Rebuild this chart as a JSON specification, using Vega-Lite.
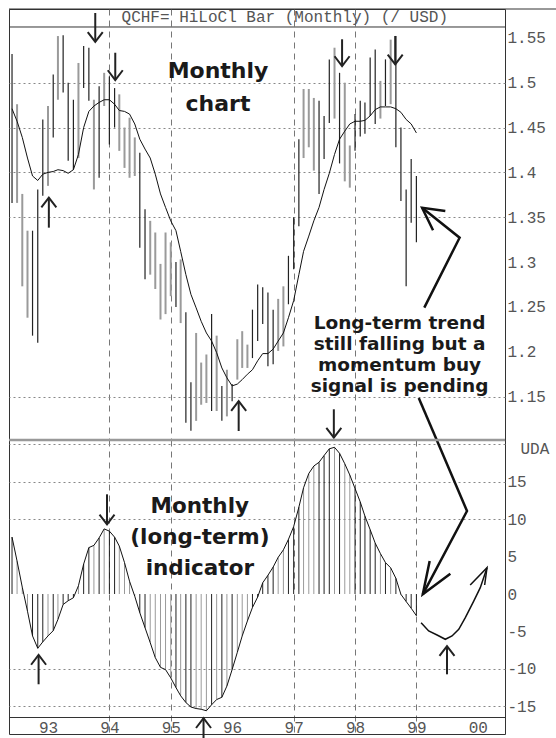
{
  "$schema": "https://vega.github.io/schema/vega-lite/v6.json",
  "padding": {"left": 7, "top": 8, "right": 0, "bottom": 0},
  "background": "white",
  "spacing": 0,
  "bounds": "flush",
  "config": {
    "view": {"stroke": "#333", "strokeWidth": 1},
    "axis": {"labelFont": "Liberation Mono", "labelFontSize": 16, "labelColor": "#555", "ticks": false, "domain": false, "labelOverlap": false}
  },
  "datasets": {
    "monthly": [
      {"date": "1992-06-01", "hi": 1.532, "lo": 1.366, "ma": 1.471, "ind": 7.6, "dir": "up"},
      {"date": "1992-07-01", "hi": 1.476, "lo": 1.366, "ma": 1.457, "ind": 4.4, "dir": "down"},
      {"date": "1992-08-01", "hi": 1.376, "lo": 1.273, "ma": 1.439, "ind": 0.9, "dir": "down"},
      {"date": "1992-09-01", "hi": 1.335, "lo": 1.238, "ma": 1.416, "ind": -2.3, "dir": "down"},
      {"date": "1992-10-01", "hi": 1.335, "lo": 1.218, "ma": 1.396, "ind": -5.6, "dir": "up"},
      {"date": "1992-11-01", "hi": 1.381, "lo": 1.210, "ma": 1.391, "ind": -7.25, "dir": "up"},
      {"date": "1992-12-01", "hi": 1.459, "lo": 1.374, "ma": 1.398, "ind": -6.4, "dir": "up"},
      {"date": "1993-01-01", "hi": 1.474, "lo": 1.385, "ma": 1.400, "ind": -5.6, "dir": "down"},
      {"date": "1993-02-01", "hi": 1.509, "lo": 1.439, "ma": 1.401, "ind": -4.9, "dir": "up"},
      {"date": "1993-03-01", "hi": 1.552, "lo": 1.481, "ma": 1.403, "ind": -3.4, "dir": "down"},
      {"date": "1993-04-01", "hi": 1.553, "lo": 1.489, "ma": 1.402, "ind": -1.4, "dir": "up"},
      {"date": "1993-05-01", "hi": 1.500, "lo": 1.413, "ma": 1.399, "ind": -0.9, "dir": "up"},
      {"date": "1993-06-01", "hi": 1.481, "lo": 1.403, "ma": 1.403, "ind": -0.5, "dir": "up"},
      {"date": "1993-07-01", "hi": 1.522, "lo": 1.416, "ma": 1.420, "ind": 1.1, "dir": "down"},
      {"date": "1993-08-01", "hi": 1.541, "lo": 1.494, "ma": 1.450, "ind": 4.0, "dir": "up"},
      {"date": "1993-09-01", "hi": 1.539, "lo": 1.480, "ma": 1.468, "ind": 6.2, "dir": "up"},
      {"date": "1993-10-01", "hi": 1.481, "lo": 1.381, "ma": 1.474, "ind": 6.5, "dir": "down"},
      {"date": "1993-11-01", "hi": 1.496, "lo": 1.394, "ma": 1.478, "ind": 7.5, "dir": "up"},
      {"date": "1993-12-01", "hi": 1.511, "lo": 1.474, "ma": 1.481, "ind": 8.7, "dir": "down"},
      {"date": "1994-01-01", "hi": 1.507, "lo": 1.431, "ma": 1.481, "ind": 8.4, "dir": "up"},
      {"date": "1994-02-01", "hi": 1.494, "lo": 1.450, "ma": 1.476, "ind": 7.6, "dir": "up"},
      {"date": "1994-03-01", "hi": 1.487, "lo": 1.424, "ma": 1.469, "ind": 6.4, "dir": "down"},
      {"date": "1994-04-01", "hi": 1.450, "lo": 1.405, "ma": 1.468, "ind": 4.2, "dir": "down"},
      {"date": "1994-05-01", "hi": 1.461, "lo": 1.394, "ma": 1.465, "ind": 1.7, "dir": "down"},
      {"date": "1994-06-01", "hi": 1.439, "lo": 1.396, "ma": 1.454, "ind": -0.3, "dir": "down"},
      {"date": "1994-07-01", "hi": 1.422, "lo": 1.316, "ma": 1.437, "ind": -2.5, "dir": "up"},
      {"date": "1994-08-01", "hi": 1.359, "lo": 1.281, "ma": 1.426, "ind": -4.5, "dir": "up"},
      {"date": "1994-09-01", "hi": 1.346, "lo": 1.286, "ma": 1.416, "ind": -6.5, "dir": "down"},
      {"date": "1994-10-01", "hi": 1.333, "lo": 1.270, "ma": 1.398, "ind": -8.5, "dir": "down"},
      {"date": "1994-11-01", "hi": 1.298, "lo": 1.236, "ma": 1.376, "ind": -9.8, "dir": "down"},
      {"date": "1994-12-01", "hi": 1.333, "lo": 1.242, "ma": 1.361, "ind": -10.1, "dir": "down"},
      {"date": "1995-01-01", "hi": 1.322, "lo": 1.262, "ma": 1.346, "ind": -11.2, "dir": "down"},
      {"date": "1995-02-01", "hi": 1.300, "lo": 1.250, "ma": 1.335, "ind": -12.5, "dir": "up"},
      {"date": "1995-03-01", "hi": 1.303, "lo": 1.232, "ma": 1.312, "ind": -13.6, "dir": "down"},
      {"date": "1995-04-01", "hi": 1.244, "lo": 1.121, "ma": 1.286, "ind": -14.5, "dir": "up"},
      {"date": "1995-05-01", "hi": 1.166, "lo": 1.112, "ma": 1.264, "ind": -15.1, "dir": "up"},
      {"date": "1995-06-01", "hi": 1.221, "lo": 1.123, "ma": 1.249, "ind": -15.3, "dir": "down"},
      {"date": "1995-07-01", "hi": 1.188, "lo": 1.141, "ma": 1.234, "ind": -15.4, "dir": "down"},
      {"date": "1995-08-01", "hi": 1.197, "lo": 1.143, "ma": 1.221, "ind": -15.6, "dir": "down"},
      {"date": "1995-09-01", "hi": 1.242, "lo": 1.134, "ma": 1.212, "ind": -14.8, "dir": "up"},
      {"date": "1995-10-01", "hi": 1.218, "lo": 1.134, "ma": 1.199, "ind": -14.1, "dir": "down"},
      {"date": "1995-11-01", "hi": 1.162, "lo": 1.123, "ma": 1.182, "ind": -13.8, "dir": "up"},
      {"date": "1995-12-01", "hi": 1.180, "lo": 1.128, "ma": 1.171, "ind": -12.3, "dir": "down"},
      {"date": "1996-01-01", "hi": 1.164, "lo": 1.145, "ma": 1.162, "ind": -10.1, "dir": "up"},
      {"date": "1996-02-01", "hi": 1.214, "lo": 1.169, "ma": 1.164, "ind": -7.8, "dir": "down"},
      {"date": "1996-03-01", "hi": 1.223, "lo": 1.182, "ma": 1.169, "ind": -5.6, "dir": "down"},
      {"date": "1996-04-01", "hi": 1.208, "lo": 1.182, "ma": 1.175, "ind": -3.6, "dir": "down"},
      {"date": "1996-05-01", "hi": 1.247, "lo": 1.193, "ma": 1.180, "ind": -1.8, "dir": "up"},
      {"date": "1996-06-01", "hi": 1.275, "lo": 1.212, "ma": 1.190, "ind": -0.4, "dir": "up"},
      {"date": "1996-07-01", "hi": 1.272, "lo": 1.231, "ma": 1.198, "ind": 1.5, "dir": "up"},
      {"date": "1996-08-01", "hi": 1.266, "lo": 1.184, "ma": 1.198, "ind": 2.5, "dir": "up"},
      {"date": "1996-09-01", "hi": 1.247, "lo": 1.186, "ma": 1.203, "ind": 3.6, "dir": "up"},
      {"date": "1996-10-01", "hi": 1.259, "lo": 1.201, "ma": 1.212, "ind": 4.9, "dir": "down"},
      {"date": "1996-11-01", "hi": 1.273, "lo": 1.206, "ma": 1.221, "ind": 5.9, "dir": "down"},
      {"date": "1996-12-01", "hi": 1.307, "lo": 1.253, "ma": 1.238, "ind": 7.3, "dir": "up"},
      {"date": "1997-01-01", "hi": 1.350, "lo": 1.292, "ma": 1.257, "ind": 9.0, "dir": "up"},
      {"date": "1997-02-01", "hi": 1.437, "lo": 1.340, "ma": 1.286, "ind": 11.6, "dir": "up"},
      {"date": "1997-03-01", "hi": 1.493, "lo": 1.416, "ma": 1.312, "ind": 14.2, "dir": "down"},
      {"date": "1997-04-01", "hi": 1.493, "lo": 1.428, "ma": 1.329, "ind": 16.1, "dir": "down"},
      {"date": "1997-05-01", "hi": 1.483, "lo": 1.402, "ma": 1.346, "ind": 17.1, "dir": "down"},
      {"date": "1997-06-01", "hi": 1.480, "lo": 1.376, "ma": 1.361, "ind": 17.6, "dir": "up"},
      {"date": "1997-07-01", "hi": 1.463, "lo": 1.415, "ma": 1.381, "ind": 18.5, "dir": "up"},
      {"date": "1997-08-01", "hi": 1.526, "lo": 1.455, "ma": 1.399, "ind": 19.4, "dir": "up"},
      {"date": "1997-09-01", "hi": 1.539, "lo": 1.460, "ma": 1.420, "ind": 19.6, "dir": "down"},
      {"date": "1997-10-01", "hi": 1.511, "lo": 1.410, "ma": 1.437, "ind": 18.8, "dir": "up"},
      {"date": "1997-11-01", "hi": 1.500, "lo": 1.390, "ma": 1.446, "ind": 17.4, "dir": "down"},
      {"date": "1997-12-01", "hi": 1.430, "lo": 1.383, "ma": 1.454, "ind": 15.9, "dir": "down"},
      {"date": "1998-01-01", "hi": 1.465, "lo": 1.424, "ma": 1.457, "ind": 14.1, "dir": "up"},
      {"date": "1998-02-01", "hi": 1.480, "lo": 1.440, "ma": 1.457, "ind": 12.3, "dir": "up"},
      {"date": "1998-03-01", "hi": 1.478, "lo": 1.443, "ma": 1.458, "ind": 10.4, "dir": "up"},
      {"date": "1998-04-01", "hi": 1.528, "lo": 1.463, "ma": 1.463, "ind": 8.6, "dir": "up"},
      {"date": "1998-05-01", "hi": 1.537, "lo": 1.454, "ma": 1.470, "ind": 6.8, "dir": "up"},
      {"date": "1998-06-01", "hi": 1.502, "lo": 1.460, "ma": 1.473, "ind": 5.4, "dir": "down"},
      {"date": "1998-07-01", "hi": 1.526, "lo": 1.474, "ma": 1.473, "ind": 4.2, "dir": "up"},
      {"date": "1998-08-01", "hi": 1.548, "lo": 1.476, "ma": 1.473, "ind": 3.5, "dir": "down"},
      {"date": "1998-09-01", "hi": 1.552, "lo": 1.428, "ma": 1.471, "ind": 2.1, "dir": "up"},
      {"date": "1998-10-01", "hi": 1.450, "lo": 1.368, "ma": 1.467, "ind": -0.05, "dir": "up"},
      {"date": "1998-11-01", "hi": 1.381, "lo": 1.273, "ma": 1.459, "ind": -1.0, "dir": "up"},
      {"date": "1998-12-01", "hi": 1.415, "lo": 1.344, "ma": 1.454, "ind": -1.9, "dir": "up"},
      {"date": "1999-01-01", "hi": 1.396, "lo": 1.322, "ma": 1.444, "ind": -2.9, "dir": "up"}
    ],
    "topArrows": [
      {"date": "1993-10-09", "tail": 1.5777, "tip": 1.5454, "dir": "down"},
      {"date": "1994-02-05", "tail": 1.5334, "tip": 1.5030, "dir": "down"},
      {"date": "1993-01-06", "tail": 1.3384, "tip": 1.3718, "dir": "up"},
      {"date": "1996-02-09", "tail": 1.1117, "tip": 1.1451, "dir": "up"},
      {"date": "1997-10-16", "tail": 1.5484, "tip": 1.5186, "dir": "down"},
      {"date": "1998-08-28", "tail": 1.5521, "tip": 1.5205, "dir": "down"},
      {"date": "1997-08-28", "tail": 1.1359, "tip": 1.1042, "dir": "down"}
    ],
    "bottomArrows": [
      {"date": "1992-11-06", "tail": -12.06, "tip": -8.15, "dir": "up"},
      {"date": "1993-12-18", "tail": 13.32, "tip": 9.31, "dir": "down"},
      {"date": "1995-07-15", "tail": -19.37, "tip": -16.6, "dir": "up"},
      {"date": "1999-07-02", "tail": -10.73, "tip": -6.95, "dir": "up"}
    ],
    "topPointer": [
      {"seg": "a", "o": 1, "date": "1999-01-15", "p": 1.1485},
      {"seg": "a", "o": 2, "date": "1999-05-02", "p": 1.10167},
      {"seg": "b", "o": 1, "date": "1999-02-17", "p": 1.2492},
      {"seg": "b", "o": 2, "date": "1999-09-15", "p": 1.3272},
      {"seg": "b", "o": 3, "date": "1999-02-04", "p": 1.3606},
      {"seg": "c", "o": 1, "date": "1999-06-22", "p": 1.3570},
      {"seg": "c", "o": 2, "date": "1999-02-04", "p": 1.3606},
      {"seg": "c", "o": 3, "date": "1999-04-10", "p": 1.3355}
    ],
    "bottomPointer": [
      {"seg": "a", "o": 1, "date": "1999-05-02", "v": 20.575},
      {"seg": "a", "o": 2, "date": "1999-10-29", "v": 11.09},
      {"seg": "a", "o": 3, "date": "1999-02-08", "v": -0.04},
      {"seg": "b", "o": 1, "date": "1999-03-21", "v": 4.41},
      {"seg": "b", "o": 2, "date": "1999-02-08", "v": -0.04},
      {"seg": "b", "o": 3, "date": "1999-07-22", "v": 2.71}
    ],
    "projection": [
      {"seg": "p", "o": 1, "date": "1999-01-29", "v": -3.83},
      {"seg": "p", "o": 2, "date": "1999-03-15", "v": -4.94},
      {"seg": "p", "o": 3, "date": "1999-05-04", "v": -5.48},
      {"seg": "p", "o": 4, "date": "1999-06-22", "v": -6.05},
      {"seg": "p", "o": 5, "date": "1999-08-01", "v": -5.61},
      {"seg": "p", "o": 6, "date": "1999-09-10", "v": -4.72},
      {"seg": "p", "o": 7, "date": "1999-10-19", "v": -3.16},
      {"seg": "p", "o": 8, "date": "1999-12-08", "v": -0.94},
      {"seg": "p", "o": 9, "date": "2000-01-16", "v": 0.85},
      {"seg": "p", "o": 10, "date": "2000-02-25", "v": 3.51},
      {"seg": "h", "o": 1, "date": "1999-11-17", "v": 1.2},
      {"seg": "h", "o": 2, "date": "2000-02-25", "v": 3.51},
      {"seg": "h", "o": 3, "date": "2000-02-11", "v": 1.2}
    ]
  },
  "vconcat": [
    {
      "width": 496,
      "height": 431,
      "layer": [
        {
          "data": {"name": "monthly"},
          "mark": {"type": "rule"},
          "encoding": {
            "x": {"field": "date", "type": "temporal",
              "scale": {"type": "utc", "domain": [{"year": 1992, "month": 5, "date": 14, "utc": true}, {"year": 2000, "month": 6, "date": 11, "utc": true}]},
              "axis": {"orient": "bottom", "title": null, "labels": false, "ticks": false, "domain": false, "grid": true, "gridColor": "#777", "gridDash": [6, 5], "gridWidth": 1,
                "values": [{"year": 1993, "utc": true}, {"year": 1994, "utc": true}, {"year": 1995, "utc": true}, {"year": 1996, "utc": true}, {"year": 1997, "utc": true}, {"year": 1998, "utc": true}, {"year": 1999, "utc": true}, {"year": 2000, "utc": true}],
                "gridOpacity": {"condition": {"test": "indexof([1994,1995,1997,1998], utcyear(datum.value)) >= 0", "value": 1}, "value": 0}}},
            "y": {"field": "hi", "type": "quantitative",
              "scale": {"domain": [1.10167, 1.58216], "nice": false, "zero": false},
              "axis": {"orient": "right", "title": null, "values": [1.15, 1.2, 1.25, 1.3, 1.35, 1.4, 1.45, 1.5, 1.55], "labelExpr": "'' + round(datum.value * 100) / 100", "labelPadding": 2, "grid": true, "gridColor": "#888", "gridDash": [2, 3],
                "gridOpacity": {"condition": {"test": "abs(datum.value - 1.2) < 0.001 || abs(datum.value - 1.25) < 0.001 || abs(datum.value - 1.3) < 0.001 || datum.value > 1.54", "value": 0}, "value": 1}}},
            "y2": {"field": "lo"},
            "color": {"field": "dir", "type": "nominal", "scale": {"domain": ["up", "down"], "range": ["#222222", "#9a9a9a"]}, "legend": null},
            "strokeWidth": {"field": "dir", "type": "ordinal", "scale": {"domain": ["up", "down"], "range": [1.2, 2]}, "legend": null}
          }
        },
        {
          "data": {"name": "monthly"},
          "mark": {"type": "line", "color": "#111", "strokeWidth": 1},
          "encoding": {
            "x": {"field": "date", "type": "temporal", "scale": {"type": "utc", "domain": [{"year": 1992, "month": 5, "date": 14, "utc": true}, {"year": 2000, "month": 6, "date": 11, "utc": true}]}},
            "y": {"field": "ma", "type": "quantitative", "scale": {"domain": [1.10167, 1.58216], "nice": false, "zero": false}}
          }
        },
        {
          "data": {"values": [{"p": 1.5621}]},
          "mark": {"type": "rule", "color": "#333", "strokeWidth": 1},
          "encoding": {
            "y": {"field": "p", "type": "quantitative", "scale": {"domain": [1.10167, 1.58216], "nice": false, "zero": false}}
          }
        },
        {
          "data": {"values": [{"date": "1992-05-14", "date2": "2001-04-22", "p": 1.58216}]},
          "mark": {"type": "rule", "color": "#333", "strokeWidth": 1},
          "encoding": {
            "x": {"field": "date", "type": "temporal", "scale": {"type": "utc", "domain": [{"year": 1992, "month": 5, "date": 14, "utc": true}, {"year": 2000, "month": 6, "date": 11, "utc": true}]}},
            "x2": {"field": "date2"},
            "y": {"field": "p", "type": "quantitative", "scale": {"domain": [1.10167, 1.58216], "nice": false, "zero": false}}
          }
        },
        {
          "data": {"values": [
            {"date": "1996-11-09", "p": 1.568, "label": "QCHF= HiLoCl Bar (Monthly) (/ USD)"}
          ]},
          "mark": {"type": "text", "font": "Liberation Mono", "fontSize": 16, "color": "#555", "align": "center", "baseline": "alphabetic"},
          "encoding": {
            "x": {"field": "date", "type": "temporal", "scale": {"type": "utc", "domain": [{"year": 1992, "month": 5, "date": 14, "utc": true}, {"year": 2000, "month": 6, "date": 11, "utc": true}]}},
            "y": {"field": "p", "type": "quantitative", "scale": {"domain": [1.10167, 1.58216], "nice": false, "zero": false}},
            "text": {"field": "label"}
          }
        },
        {
          "data": {"values": [
            {"date": "1995-10-09", "p": 1.5049, "label": "Monthly\nchart"}
          ]},
          "mark": {"type": "text", "font": "DejaVu Sans", "fontWeight": "bold", "fontSize": 22, "lineHeight": 33, "lineBreak": "\n", "color": "#1a1a1a", "align": "center", "baseline": "alphabetic"},
          "encoding": {
            "x": {"field": "date", "type": "temporal", "scale": {"type": "utc", "domain": [{"year": 1992, "month": 5, "date": 14, "utc": true}, {"year": 2000, "month": 6, "date": 11, "utc": true}]}},
            "y": {"field": "p", "type": "quantitative", "scale": {"domain": [1.10167, 1.58216], "nice": false, "zero": false}},
            "text": {"field": "label"}
          }
        },
        {
          "data": {"values": [
            {"date": "1998-09-23", "p": 1.2251, "label": "Long-term trend\nstill falling but a\nmomentum buy\nsignal is pending"}
          ]},
          "mark": {"type": "text", "font": "DejaVu Sans", "fontWeight": "bold", "fontSize": 18.5, "lineHeight": 21, "lineBreak": "\n", "color": "#1a1a1a", "align": "center", "baseline": "alphabetic"},
          "encoding": {
            "x": {"field": "date", "type": "temporal", "scale": {"type": "utc", "domain": [{"year": 1992, "month": 5, "date": 14, "utc": true}, {"year": 2000, "month": 6, "date": 11, "utc": true}]}},
            "y": {"field": "p", "type": "quantitative", "scale": {"domain": [1.10167, 1.58216], "nice": false, "zero": false}},
            "text": {"field": "label"}
          }
        },
        {
          "data": {"name": "topArrows"},
          "mark": {"type": "rule", "color": "#222", "strokeWidth": 2},
          "encoding": {
            "x": {"field": "date", "type": "temporal", "scale": {"type": "utc", "domain": [{"year": 1992, "month": 5, "date": 14, "utc": true}, {"year": 2000, "month": 6, "date": 11, "utc": true}]}},
            "y": {"field": "tail", "type": "quantitative", "scale": {"domain": [1.10167, 1.58216], "nice": false, "zero": false}},
            "y2": {"field": "tip"}
          }
        },
        {
          "data": {"name": "topArrows"},
          "mark": {"type": "point", "filled": false, "color": "#222", "strokeWidth": 2, "size": 225, "opacity": 1},
          "encoding": {
            "x": {"field": "date", "type": "temporal", "scale": {"type": "utc", "domain": [{"year": 1992, "month": 5, "date": 14, "utc": true}, {"year": 2000, "month": 6, "date": 11, "utc": true}]}},
            "y": {"field": "tip", "type": "quantitative", "scale": {"domain": [1.10167, 1.58216], "nice": false, "zero": false}},
            "shape": {"field": "dir", "type": "nominal", "scale": {"domain": ["down", "up"], "range": ["M-1,-1.3L0,0L1,-1.3", "M-1,1.3L0,0L1,1.3"]}, "legend": null}
          }
        },
        {
          "data": {"name": "topPointer"},
          "mark": {"type": "line", "color": "#111", "strokeWidth": 2.5},
          "encoding": {
            "x": {"field": "date", "type": "temporal", "scale": {"type": "utc", "domain": [{"year": 1992, "month": 5, "date": 14, "utc": true}, {"year": 2000, "month": 6, "date": 11, "utc": true}]}},
            "y": {"field": "p", "type": "quantitative", "scale": {"domain": [1.10167, 1.58216], "nice": false, "zero": false}},
            "detail": {"field": "seg", "type": "nominal"},
            "order": {"field": "o", "type": "quantitative"}
          }
        }
      ]
    },
    {
      "width": 496,
      "height": 294,
      "layer": [
        {
          "data": {"name": "monthly"},
          "mark": {"type": "rule", "strokeWidth": 1},
          "encoding": {
            "x": {"field": "date", "type": "temporal",
              "scale": {"type": "utc", "domain": [{"year": 1992, "month": 5, "date": 14, "utc": true}, {"year": 2000, "month": 6, "date": 11, "utc": true}]},
              "axis": {"orient": "bottom", "title": null, "offset": -17, "labelExpr": "utcFormat(datum.value, '%y')", "labelPadding": 2, "ticks": false, "domain": true, "domainColor": "#333", "grid": true, "gridColor": "#777", "gridDash": [6, 5],
                "values": [{"year": 1993, "utc": true}, {"year": 1994, "utc": true}, {"year": 1995, "utc": true}, {"year": 1996, "utc": true}, {"year": 1997, "utc": true}, {"year": 1998, "utc": true}, {"year": 1999, "utc": true}, {"year": 2000, "utc": true}],
                "gridOpacity": {"condition": {"test": "indexof([1994,1995,1997,1998,1999], utcyear(datum.value)) >= 0", "value": 1}, "value": 0}}},
            "y": {"field": "ind", "type": "quantitative",
              "scale": {"domain": [-18.704, 20.575], "nice": false, "zero": false},
              "axis": {"orient": "right", "title": null, "values": [-15, -10, -5, 0, 5, 10, 15, 20], "labelExpr": "datum.value == 20 ? '' : '' + datum.value", "labelPadding": 2, "grid": true, "gridColor": "#888", "gridDash": [2, 3],
                "gridOpacity": {"condition": {"test": "datum.value == 5 || datum.value == 0 || datum.value == -5", "value": 0}, "value": 1}}},
            "y2": {"datum": 0},
            "color": {"field": "dir", "type": "nominal", "scale": {"domain": ["up", "down"], "range": ["#222222", "#9a9a9a"]}, "legend": null}
          }
        },
        {
          "data": {"name": "monthly"},
          "mark": {"type": "line", "color": "#111", "strokeWidth": 1},
          "encoding": {
            "x": {"field": "date", "type": "temporal", "scale": {"type": "utc", "domain": [{"year": 1992, "month": 5, "date": 14, "utc": true}, {"year": 2000, "month": 6, "date": 11, "utc": true}]}},
            "y": {"field": "ind", "type": "quantitative", "scale": {"domain": [-18.704, 20.575], "nice": false, "zero": false}}
          }
        },
        {
          "data": {"name": "projection"},
          "mark": {"type": "line", "color": "#111", "strokeWidth": 1.5},
          "encoding": {
            "x": {"field": "date", "type": "temporal", "scale": {"type": "utc", "domain": [{"year": 1992, "month": 5, "date": 14, "utc": true}, {"year": 2000, "month": 6, "date": 11, "utc": true}]}},
            "y": {"field": "v", "type": "quantitative", "scale": {"domain": [-18.704, 20.575], "nice": false, "zero": false}},
            "detail": {"field": "seg", "type": "nominal"},
            "order": {"field": "o", "type": "quantitative"}
          }
        },
        {
          "data": {"name": "bottomPointer"},
          "mark": {"type": "line", "color": "#111", "strokeWidth": 2.5},
          "encoding": {
            "x": {"field": "date", "type": "temporal", "scale": {"type": "utc", "domain": [{"year": 1992, "month": 5, "date": 14, "utc": true}, {"year": 2000, "month": 6, "date": 11, "utc": true}]}},
            "y": {"field": "v", "type": "quantitative", "scale": {"domain": [-18.704, 20.575], "nice": false, "zero": false}},
            "detail": {"field": "seg", "type": "nominal"},
            "order": {"field": "o", "type": "quantitative"}
          }
        },
        {
          "data": {"name": "bottomArrows"},
          "mark": {"type": "rule", "color": "#222", "strokeWidth": 2},
          "encoding": {
            "x": {"field": "date", "type": "temporal", "scale": {"type": "utc", "domain": [{"year": 1992, "month": 5, "date": 14, "utc": true}, {"year": 2000, "month": 6, "date": 11, "utc": true}]}},
            "y": {"field": "tail", "type": "quantitative", "scale": {"domain": [-18.704, 20.575], "nice": false, "zero": false}},
            "y2": {"field": "tip"}
          }
        },
        {
          "data": {"name": "bottomArrows"},
          "mark": {"type": "point", "filled": false, "color": "#222", "strokeWidth": 2, "size": 225, "opacity": 1},
          "encoding": {
            "x": {"field": "date", "type": "temporal", "scale": {"type": "utc", "domain": [{"year": 1992, "month": 5, "date": 14, "utc": true}, {"year": 2000, "month": 6, "date": 11, "utc": true}]}},
            "y": {"field": "tip", "type": "quantitative", "scale": {"domain": [-18.704, 20.575], "nice": false, "zero": false}},
            "shape": {"field": "dir", "type": "nominal", "scale": {"domain": ["down", "up"], "range": ["M-1,-1.3L0,0L1,-1.3", "M-1,1.3L0,0L1,1.3"]}, "legend": null}
          }
        },
        {
          "data": {"values": [
            {"date": "1995-06-23", "v": 10.86, "label": "Monthly\n(long-term)\nindicator"}
          ]},
          "mark": {"type": "text", "font": "DejaVu Sans", "fontWeight": "bold", "fontSize": 21.5, "lineHeight": 31, "lineBreak": "\n", "color": "#1a1a1a", "align": "center", "baseline": "alphabetic"},
          "encoding": {
            "x": {"field": "date", "type": "temporal", "scale": {"type": "utc", "domain": [{"year": 1992, "month": 5, "date": 14, "utc": true}, {"year": 2000, "month": 6, "date": 11, "utc": true}]}},
            "y": {"field": "v", "type": "quantitative", "scale": {"domain": [-18.704, 20.575], "nice": false, "zero": false}},
            "text": {"field": "label"}
          }
        },
        {
          "data": {"values": [
            {"date": "2000-12-06", "v": 19.37, "label": "UDA"}
          ]},
          "mark": {"type": "text", "font": "Liberation Mono", "fontSize": 16, "color": "#555", "align": "center", "baseline": "middle"},
          "encoding": {
            "x": {"field": "date", "type": "temporal", "scale": {"type": "utc", "domain": [{"year": 1992, "month": 5, "date": 14, "utc": true}, {"year": 2000, "month": 6, "date": 11, "utc": true}]}},
            "y": {"field": "v", "type": "quantitative", "scale": {"domain": [-18.704, 20.575], "nice": false, "zero": false}},
            "text": {"field": "label"}
          }
        },
        {
          "data": {"values": [{"v": 20.575}]},
          "mark": {"type": "rule", "color": "#999", "strokeWidth": 2.5},
          "encoding": {
            "y": {"field": "v", "type": "quantitative", "scale": {"domain": [-18.704, 20.575], "nice": false, "zero": false}}
          }
        }
      ]
    }
  ]
}
